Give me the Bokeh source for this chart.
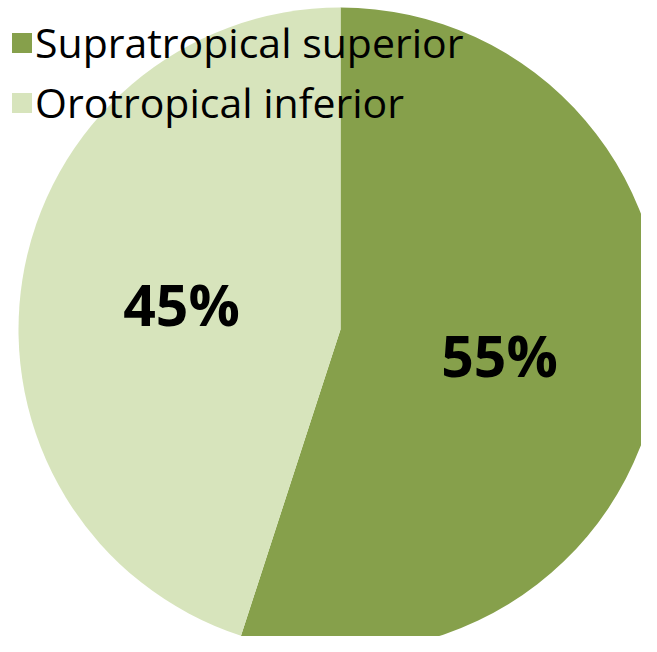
import math
from bokeh.plotting import figure
from bokeh.models import ColumnDataSource, Legend, LegendItem
from bokeh.embed import file_html
from bokeh.resources import INLINE
from bokeh.core.properties import value

# Data
categories = ["Supratropical superior", "Orotropical inferior"]
percents = [55, 45]
colors = ["#86A04B", "#D7E4BC"]

W, H = 641, 636
p = figure(width=W, height=H, x_range=(0, W), y_range=(0, H),
           output_backend="svg", toolbar_location=None,
           min_border=0, outline_line_color=None)
p.axis.visible = False
p.grid.visible = False
p.background_fill_color = "white"

cx, cy, R = 340, 307, 322

# angles: start at 12 o'clock, go clockwise
starts, ends, mids = [], [], []
acc = 0.0
for v in percents:
    a0 = math.pi / 2 - 2 * math.pi * acc / 100
    a1 = math.pi / 2 - 2 * math.pi * (acc + v) / 100
    starts.append(a1)
    ends.append(a0)
    mids.append((a0 + a1) / 2)
    acc += v

src = ColumnDataSource(dict(cat=categories, val=percents, color=colors,
                            start=starts, end=ends,
                            lx=[cx + 0.5 * R * math.cos(m) for m in mids],
                            ly=[cy + 0.5 * R * math.sin(m) for m in mids],
                            lab=[f"{v}%" for v in percents]))

r = p.wedge(x=cx, y=cy, radius=R, start_angle="start", end_angle="end",
            color="color", line_color=None, source=src)

p.text(x="lx", y="ly", text="lab", source=src, text_align="center",
       text_baseline="middle", text_font=value("Open Sans"),
       text_font_style="bold", text_font_size="57px", text_color="black")

legend = Legend(items=[LegendItem(label=categories[i], renderers=[r], index=i)
                       for i in range(len(categories))],
                location=(9, 506), padding=0, margin=0,
                border_line_color=None, background_fill_alpha=0,
                label_text_font="Open Sans", label_text_font_size="41px",
                label_text_color="black", glyph_width=25, glyph_height=25,
                label_standoff=1, spacing=4)
p.add_layout(legend)

open("out.html", "w").write(file_html(p, INLINE))
